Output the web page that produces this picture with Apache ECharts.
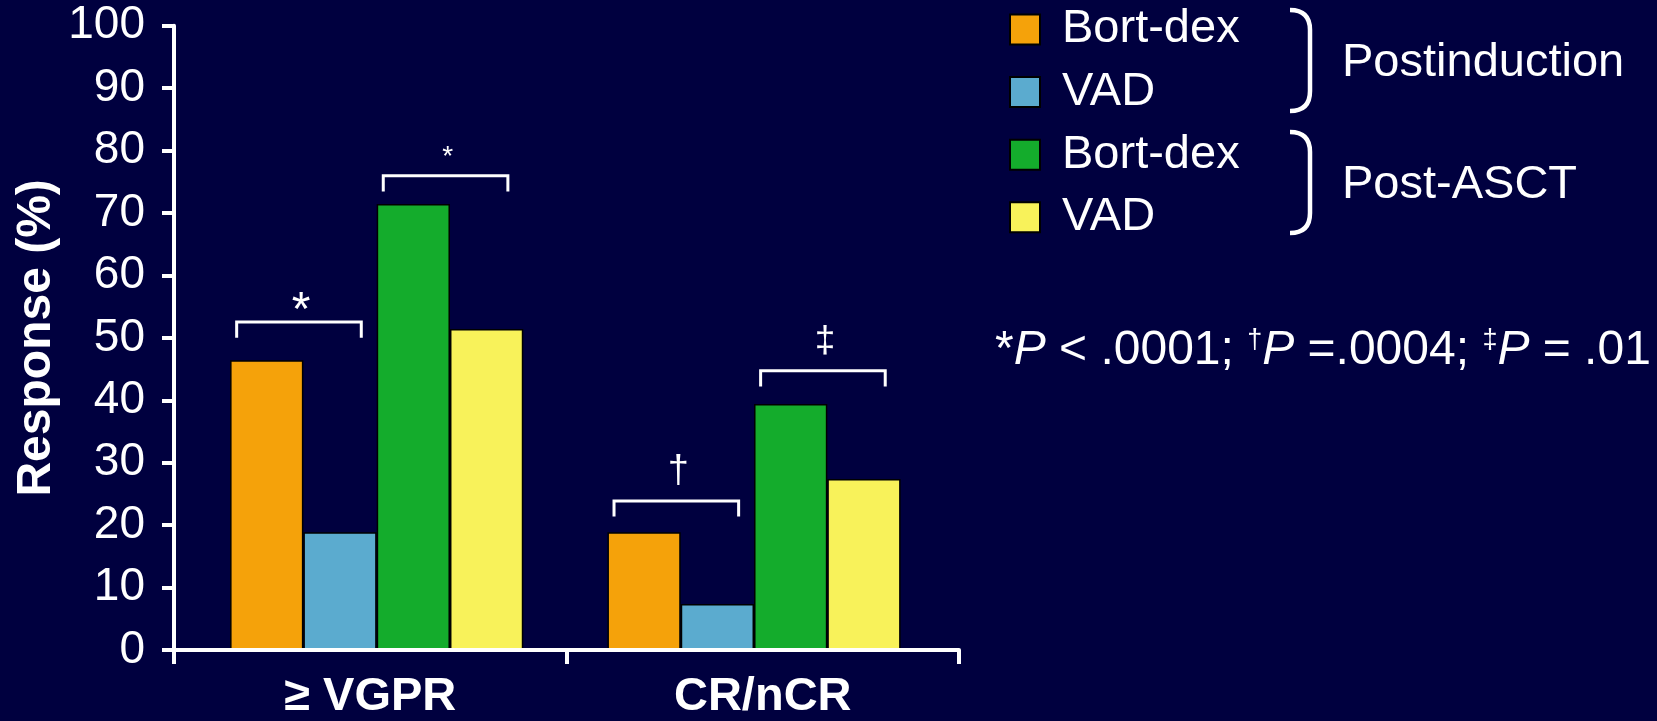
<!DOCTYPE html>
<html>
<head>
<meta charset="utf-8">
<script src="https://cdn.jsdelivr.net/npm/echarts@6/dist/echarts.min.js"></script>
<style>
  html, body { margin: 0; padding: 0; background: #00003f; }
  #chart { width: 1657px; height: 721px; }
</style>
</head>
<body>
<div id="chart"></div>
<script>
// data
var categories = ['\u2265 VGPR', 'CR/nCR'];
var seriesNames = ['Bort-dex', 'VAD', 'Bort-dex', 'VAD'];
var phases = ['Postinduction', 'Postinduction', 'Post-ASCT', 'Post-ASCT'];
var postInductionBortDex = [46.5, 19];
var postInductionVad = [19, 7.5];
var postAsctBortDex = [71.5, 39.5];
var postAsctVad = [51.5, 27.5];
var yMin = 0, yMax = 100, yStep = 10;

// significance brackets: category, pair of bars (0 = first two, 1 = last two), height, mark
var bracketCategory = [0, 0, 1, 1];
var bracketPair = [0, 1, 0, 1];
var bracketTop = [52.6, 76, 24, 44.8];
var bracketMark = ['*', '*', '\u2020', '\u2021'];

var footnote = '*{i|P} < .0001; {s|\u2020}{i|P} =.0004; {s|\u2021}{i|P} = .01';

// styles
var FONT = '"Liberation Sans", Arial, sans-serif';
var colors = ['#f5a20a', '#5babcf', '#14ac2c', '#f8f25a'];
var markSize = [48, 28, 38, 37];
var markLift = [10.7, 18.7, 29, 29];
var gapPct = 22.3;
var white = '#fff';

var values = [postInductionBortDex, postInductionVad, postAsctBortDex, postAsctVad];

var chart = echarts.init(document.getElementById('chart'));

// bars sit in a second, unframed grid: the source places the bar groups
// slightly inside the tick marks of the drawn axis
var barSeries = values.map(function (v, i) {
  return {
    type: 'bar',
    name: seriesNames[i] + ' (' + phases[i] + ')',
    data: v,
    xAxisIndex: 1,
    yAxisIndex: 1,
    barGap: '0%',
    barCategoryGap: gapPct + '%',
    itemStyle: { color: colors[i], borderColor: '#000', borderWidth: 1.5 },
    z: 2
  };
});

var bracketData = bracketCategory.map(function (c, i) {
  return [c, bracketTop[i], bracketPair[i], i];
});

var bracketSeries = {
  type: 'custom',
  name: 'brackets',
  coordinateSystem: 'cartesian2d',
  xAxisIndex: 1,
  yAxisIndex: 1,
  encode: { x: 0, y: 1 },
  data: bracketData,
  z: 5,
  silent: true,
  renderItem: function (params, api) {
    var cat = api.value(0);
    var top = api.value(1);
    var pair = api.value(2);
    var idx = api.value(3);
    var p = api.coord([cat, top]);
    var band = api.size([1, 0])[0];
    var w = band * (1 - gapPct / 100) / 4;
    var start = p[0] - 2 * w + pair * 2 * w;
    var x1 = start + 0.09 * w;
    var x2 = start + 1.79 * w;
    var leg = api.size([0, 2.5])[1];
    return {
      type: 'group',
      children: [{
        type: 'polyline',
        shape: { points: [[x1, p[1] + leg], [x1, p[1]], [x2, p[1]], [x2, p[1] + leg]] },
        style: { stroke: white, lineWidth: 3, fill: null }
      }, {
        type: 'text',
        style: {
          x: (x1 + x2) / 2 + 2,
          y: p[1] - markLift[idx],
          text: bracketMark[idx],
          fill: white,
          font: markSize[idx] + 'px ' + FONT,
          align: 'center',
          verticalAlign: 'middle'
        }
      }]
    };
  }
};

// right-hand curly bracket made of two curves and a straight part
function brace(x, y1, y2) {
  var r = 20;
  var st = { stroke: white, lineWidth: 4.5, fill: null };
  return {
    type: 'group',
    children: [
      { type: 'bezierCurve', shape: { x1: x, y1: y1, cpx1: x + r, cpy1: y1, x2: x + r, y2: y1 + r }, style: st },
      { type: 'line', shape: { x1: x + r, y1: y1 + r, x2: x + r, y2: y2 - r }, style: st },
      { type: 'bezierCurve', shape: { x1: x + r, y1: y2 - r, cpx1: x + r, cpy1: y2, x2: x, y2: y2 }, style: st }
    ]
  };
}

var option = {
  backgroundColor: '#00003f',
  animation: false,
  grid: [
    { left: 174, right: 698, top: 25.7, bottom: 70 },
    { left: 188, right: 714.3, top: 25.7, bottom: 70 }
  ],
  legend: {
    data: barSeries.map(function (s) { return s.name; }),
    orient: 'vertical',
    left: 1009,
    top: 6,
    padding: 0,
    itemWidth: 30,
    itemHeight: 30,
    itemGap: 15.6,
    icon: 'rect',
    selectedMode: false,
    formatter: function (name) { return name.replace(/ \(.*\)$/, ''); },
    textStyle: {
      color: white,
      fontSize: 47,
      fontFamily: FONT,
      padding: [0, 0, 0, 17]
    }
  },
  xAxis: [{
    type: 'category',
    gridIndex: 0,
    data: categories,
    z: 3,
    axisLine: { lineStyle: { color: white, width: 4 } },
    axisTick: { show: true, length: 14, lineStyle: { color: white, width: 4 } },
    axisLabel: { color: white, fontSize: 47, fontWeight: 'bold', fontFamily: FONT, margin: 24 }
  }, {
    type: 'category',
    gridIndex: 1,
    data: categories,
    show: false
  }],
  yAxis: [{
    type: 'value',
    gridIndex: 0,
    min: yMin,
    max: yMax,
    interval: yStep,
    z: 3,
    name: 'Response (%)',
    nameLocation: 'middle',
    nameGap: 113,
    nameTextStyle: { color: white, fontSize: 48, fontWeight: 'bold', fontFamily: FONT },
    axisLine: { show: true, lineStyle: { color: white, width: 4 } },
    axisTick: { show: true, length: 12, lineStyle: { color: white, width: 4 } },
    axisLabel: { color: white, fontSize: 46, fontFamily: FONT, margin: 29 },
    splitLine: { show: false }
  }, {
    type: 'value',
    gridIndex: 1,
    min: yMin,
    max: yMax,
    interval: yStep,
    show: false,
    splitLine: { show: false }
  }],
  graphic: [
    brace(1290, 10, 111),
    brace(1290, 132, 233),
    {
      type: 'text',
      style: { x: 1342, y: 63, text: phases[0], fill: white, font: '47px ' + FONT, verticalAlign: 'middle' }
    },
    {
      type: 'text',
      style: { x: 1342, y: 185, text: phases[2], fill: white, font: '47px ' + FONT, verticalAlign: 'middle' }
    },
    {
      type: 'text',
      style: {
        x: 995,
        y: 351,
        text: footnote,
        fill: white,
        font: '48px ' + FONT,
        verticalAlign: 'middle',
        rich: {
          i: { fontSize: 48, fontStyle: 'italic', fontFamily: FONT, fill: white },
          s: { fontSize: 27, fontFamily: FONT, fill: white, verticalAlign: 'top' }
        }
      }
    }
  ],
  series: barSeries.concat([bracketSeries])
};

chart.setOption(option);
</script>
</body>
</html>
